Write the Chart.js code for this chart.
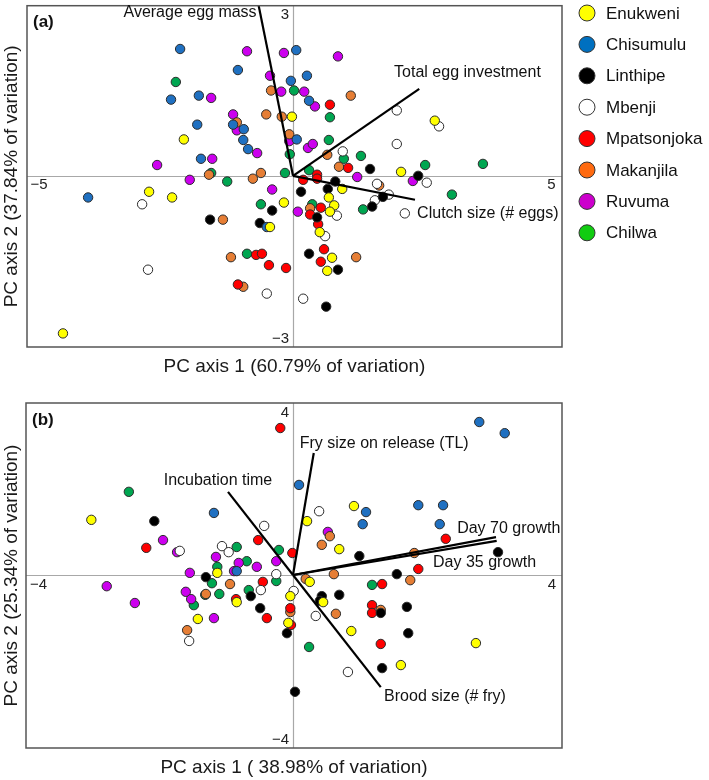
<!DOCTYPE html>
<html>
<head>
<meta charset="utf-8">
<script src="https://cdn.jsdelivr.net/npm/chart.js@4.4.1/dist/chart.umd.min.js"></script>
<style>
  body { margin: 0; background: #fff; }
  #wrap { position: relative; width: 709px; height: 780px; }
  .panel { position: absolute; left: 0; width: 709px; }
</style>
</head>
<body>
<div id="wrap">
  <div class="panel" style="top:0;height:385px"><canvas id="chartA" width="709" height="385"></canvas></div>
  <div class="panel" style="top:385px;height:395px"><canvas id="chartB" width="709" height="395"></canvas></div>
</div>
<script>
// populations (legend order)
const popNames = ["Enukweni", "Chisumulu", "Linthipe", "Mbenji", "Mpatsonjoka", "Makanjila", "Ruvuma", "Chilwa"];

// ---- panel (a): egg traits, PC1 x PC2 scores ----
const a_enukweni = [[-0.02,1.04],[-2.04,0.64],[2.65,0.97],[2.02,0.07],[0.92,-0.23],[0.67,-0.38],[-0.17,-0.47],[0.77,-0.52],[0.69,-0.63],[0.50,-0.99],[0.73,-1.44],[0.64,-1.67],[-0.43,-0.90],[-2.69,-0.28],[-2.26,-0.38],[-4.30,-2.77]];
const a_chisumulu = [[-2.11,2.23],[0.06,2.21],[-1.03,1.86],[-0.04,1.67],[0.26,1.76],[0.30,1.32],[-2.28,1.34],[-1.76,1.41],[-1.79,0.90],[-1.12,0.90],[-0.92,0.82],[0.07,0.64],[-0.93,0.63],[-0.84,0.47],[-1.72,0.30],[-3.83,-0.38],[-0.49,-0.90]];
const a_linthipe = [[1.44,0.12],[0.79,-0.10],[2.34,0.00],[0.15,-0.28],[0.65,-0.23],[1.68,-0.37],[1.48,-0.54],[0.45,-0.73],[0.30,-1.37],[0.84,-1.65],[0.62,-2.30],[-0.39,-0.61],[-1.55,-0.77],[-0.62,-0.83]];
const a_mbenji = [[1.94,1.15],[1.94,0.56],[2.73,0.87],[0.93,0.43],[1.57,-0.14],[2.50,-0.12],[1.79,-0.33],[1.53,-0.43],[0.82,-0.70],[0.60,-1.06],[0.19,-2.16],[-0.49,-2.07],[2.09,-0.66],[-2.82,-0.50],[-2.71,-1.65]];
const a_mpatsonjoka = [[0.69,1.25],[1.03,0.14],[0.19,-0.07],[0.45,0.02],[0.45,-0.05],[0.52,-0.56],[0.32,-0.68],[0.47,-0.85],[0.58,-1.29],[0.52,-1.51],[-0.13,-1.62],[-0.69,-1.39],[-0.58,-1.37],[-0.45,-1.57],[-1.03,-1.91]];
const a_makanjila = [[-0.41,1.50],[1.08,1.41],[-0.50,1.08],[-0.21,1.04],[-1.05,0.94],[-0.07,0.73],[0.64,0.37],[0.86,0.16],[1.61,-0.17],[0.32,-0.57],[1.18,-1.43],[-1.57,0.02],[-0.75,-0.05],[-0.60,0.05],[-1.31,-0.77],[-1.16,-1.43],[-0.93,-1.95]];
const a_ruvuma = [[-0.86,2.19],[-0.17,2.16],[0.84,2.10],[-0.43,1.76],[-0.22,1.48],[0.21,1.48],[0.41,1.22],[-1.53,1.37],[-1.12,1.08],[-1.05,0.80],[-0.07,0.61],[0.28,0.49],[0.37,0.56],[-0.67,0.40],[-1.51,0.30],[-2.54,0.19],[-1.93,-0.07],[1.20,-0.02],[2.24,-0.09],[-0.39,-0.24],[0.09,-0.63]];
const a_chilwa = [[-2.19,1.65],[0.02,1.50],[0.69,1.03],[0.67,0.63],[-0.06,0.38],[0.95,0.30],[1.27,0.35],[0.30,0.10],[-0.15,0.05],[2.47,0.19],[3.55,0.21],[2.97,-0.33],[1.31,-0.59],[0.36,-0.50],[-1.53,0.05],[-1.23,-0.10],[-0.60,-0.50],[-0.86,-1.37]];

const aVecNames = ["Average egg mass", "Total egg investment", "Clutch size (# eggs)"];
const aVecX = [-0.65, 2.36, 2.28];
const aVecY = [3.03, 1.53, -0.42];
const aTicksX = [-5, 5];
const aTicksY = [-3, 3];

// ---- panel (b): fry traits, PC1 x PC2 scores ----
const b_enukweni = [[-3.01,1.28],[-1.13,0.05],[-0.84,-0.63],[-1.42,-1.02],[-0.04,-0.49],[-0.07,-1.11],[0.21,1.25],[0.91,1.60],[0.69,0.60],[0.25,-0.16],[0.45,-0.63],[0.87,-1.30],[2.73,-1.58],[1.61,-2.09]];
const b_chisumulu = [[-1.18,1.44],[-0.84,0.09],[0.09,2.09],[1.09,1.46],[1.04,1.18],[1.87,1.62],[2.24,1.62],[2.19,1.18],[2.78,3.55],[3.16,3.29]];
const b_linthipe = [[-2.07,1.25],[-1.30,-0.05],[-0.63,-0.49],[-0.49,-0.77],[-0.09,-1.35],[0.43,-0.49],[0.40,-0.60],[0.69,-0.46],[0.99,0.44],[1.55,0.02],[1.31,-0.88],[1.70,-0.74],[1.72,-1.35],[1.33,-2.16],[3.06,0.53],[0.03,-2.71]];
const b_mbenji = [[-0.43,1.14],[-1.69,0.56],[-1.06,0.67],[-0.96,0.53],[-0.25,0.02],[-0.48,-0.35],[0.01,-0.37],[0.34,-0.95],[-1.55,-1.53],[0.39,1.48],[0.82,-2.25]];
const b_mpatsonjoka = [[-0.19,3.41],[-2.19,0.63],[-0.52,0.81],[-0.01,0.51],[-0.45,-0.16],[-0.85,-0.56],[-0.39,-1.00],[-0.04,-0.77],[-0.03,-1.16],[2.28,0.84],[1.87,0.14],[1.33,-0.21],[1.18,-0.70],[1.18,-0.88],[1.31,-1.60]];
const b_makanjila = [[-0.94,-0.21],[-1.30,-0.44],[-1.58,-1.28],[-0.04,-0.86],[0.19,-0.09],[0.43,0.70],[0.55,0.90],[0.61,0.02],[0.64,-0.90],[1.81,0.51],[1.75,-0.12],[1.31,-0.81]];
const b_ruvuma = [[-1.94,0.81],[-1.73,0.53],[-1.15,0.42],[-0.81,0.28],[-0.54,0.19],[-0.25,0.32],[-1.54,0.05],[-0.88,0.09],[-2.78,-0.26],[-2.36,-0.65],[-1.60,-0.39],[-1.52,-0.56],[-1.18,-1.00],[0.52,1.00]];
const b_chilwa = [[-2.45,1.93],[-0.84,0.65],[-0.21,0.58],[-1.13,0.19],[-0.69,0.32],[-1.21,-0.19],[-0.25,-0.14],[-0.66,-0.35],[-1.31,-0.46],[-1.10,-0.44],[-1.48,-0.70],[1.18,-0.23],[0.24,-1.67]];

const bVecNames = ["Fry size on release (TL)", "Incubation time", "Brood size (# fry)", "Day 70 growth", "Day 35 growth"];
const bVecX = [0.31, -0.97, 1.31, 3.03, 3.04];
const bVecY = [2.83, 1.93, -2.60, 0.88, 0.79];
const bTicksX = [-4, 4];
const bTicksY = [-4, 4];

// styling
const FONT = "'Liberation Sans', Arial, Helvetica, sans-serif";
const pointColors = ["#ffff00", "#1f70c1", "#000000", "#ffffff", "#ff0000", "#e67e35", "#cc00ee", "#00a651"];
const legendColors = ["#ffff00", "#0070c0", "#000000", "#ffffff", "#ff0000", "#ff6a10", "#cc00cc", "#11cc11"];

// where the arrow labels sit (data units) and how they align
const aLabelPos = [[-0.68, 2.87, "right"], [1.89, 1.81, "left"], [2.32, -0.66, "left"]];
const bLabelPos = [[0.10, 3.06, "left"], [-1.12, 2.20, "center"], [1.36, -2.83, "left"], [2.45, 1.07, "left"], [2.09, 0.28, "left"]];

const fmt = v => (v < 0 ? "\u2212" + Math.abs(v) : String(v));

const decoPlugin = {
  id: "deco",
  beforeDatasetsDraw(chart) {
    const { ctx, chartArea: a, scales: { x, y } } = chart;
    const x0 = Math.round(x.getPixelForValue(0)) + 0.5;
    const y0 = Math.round(y.getPixelForValue(0)) + 0.5;
    ctx.save();
    ctx.strokeStyle = "#a8a8a8";
    ctx.lineWidth = 1.2;
    ctx.beginPath();
    ctx.moveTo(a.left, y0); ctx.lineTo(a.right, y0);
    ctx.moveTo(x0, a.top); ctx.lineTo(x0, a.bottom);
    ctx.stroke();
    ctx.restore();
  },
  afterDraw(chart, args, opts) {
    const { ctx, chartArea: a, scales: { x, y } } = chart;
    const x0 = x.getPixelForValue(0);
    const y0 = y.getPixelForValue(0);
    ctx.save();

    // frame
    ctx.strokeStyle = "#555";
    ctx.lineWidth = 1.5;
    ctx.strokeRect(a.left, a.top, a.right - a.left, a.bottom - a.top);

    // tick labels, tucked inside the frame next to the zero lines
    ctx.fillStyle = "#222";
    ctx.font = "15px " + FONT;
    ctx.textBaseline = "middle";
    opts.ticksX.forEach(v => {
      const px = x.getPixelForValue(v);
      ctx.textAlign = v < 0 ? "left" : "right";
      ctx.fillText(fmt(v), px + (v < 0 ? 5 : -5), y0 + 9.5);
    });
    opts.ticksY.forEach(v => {
      const py = y.getPixelForValue(v);
      ctx.textAlign = "right";
      ctx.fillText(fmt(v), x0 - 4, py + (v > 0 ? 10 : -8));
    });

    // arrow labels
    ctx.font = "16px " + FONT;
    ctx.fillStyle = "#111";
    opts.vecNames.forEach((n, i) => {
      const p = opts.labelPos[i];
      ctx.textAlign = p[2];
      ctx.fillText(n, x.getPixelForValue(p[0]), y.getPixelForValue(p[1]));
    });

    // panel letter
    ctx.font = "bold 17px " + FONT;
    ctx.textAlign = "left";
    ctx.fillText(opts.letter, a.left + 6, a.top + 17);

    // axis titles
    ctx.font = "19px " + FONT;
    ctx.fillStyle = "#1a1a1a";
    ctx.textAlign = "center";
    ctx.fillText(opts.xTitle, (a.left + a.right) / 2, a.bottom + 20);
    ctx.save();
    ctx.translate(12, (a.top + a.bottom) / 2);
    ctx.rotate(-Math.PI / 2);
    ctx.fillText(opts.yTitle, 0, 0);
    ctx.restore();

    // legend (panel a only)
    if (opts.legend) {
      ctx.font = "17px " + FONT;
      ctx.textAlign = "left";
      popNames.forEach((n, i) => {
        const cy = 13 + i * 31.4;
        ctx.beginPath();
        ctx.arc(a.right + 25, cy, 8, 0, Math.PI * 2);
        ctx.fillStyle = legendColors[i];
        ctx.fill();
        ctx.lineWidth = 1;
        ctx.strokeStyle = "#333";
        ctx.stroke();
        ctx.fillStyle = "#111";
        ctx.fillText(n, a.right + 44, cy + 1);
      });
    }
    ctx.restore();
  }
};

function popDatasets(lists) {
  return popNames.map((name, i) => ({
    label: name,
    data: lists[i].map(p => ({ x: p[0], y: p[1] })),
    backgroundColor: pointColors[i],
    borderColor: "#2b2b2b",
    borderWidth: 1,
    pointRadius: 4.7,
    pointHoverRadius: 4.7,
    order: 1
  }));
}

function vecDatasets(names, vx, vy) {
  return names.map((n, i) => ({
    label: n,
    data: [{ x: 0, y: 0 }, { x: vx[i], y: vy[i] }],
    showLine: true,
    borderColor: "#000",
    borderWidth: 2.2,
    pointRadius: 0,
    pointHoverRadius: 0,
    order: 0
  }));
}

function makeChart(id, lists, vecs, range, padding, deco) {
  return new Chart(document.getElementById(id), {
    type: "scatter",
    data: { datasets: popDatasets(lists).concat(vecDatasets(vecs[0], vecs[1], vecs[2])) },
    options: {
      responsive: false,
      animation: false,
      events: [],
      layout: { padding: padding },
      scales: {
        x: { type: "linear", min: range[0], max: range[1], display: false },
        y: { type: "linear", min: range[2], max: range[3], display: false }
      },
      plugins: {
        legend: { display: false },
        tooltip: { enabled: false },
        deco: deco
      }
    },
    plugins: [decoPlugin]
  });
}

makeChart("chartA",
  [a_enukweni, a_chisumulu, a_linthipe, a_mbenji, a_mpatsonjoka, a_makanjila, a_ruvuma, a_chilwa],
  [aVecNames, aVecX, aVecY],
  [-4.972, 5.028, -3.009, 2.991],
  { left: 27, right: 147, top: 2, bottom: 38 },
  {
    letter: "(a)", legend: true,
    ticksX: aTicksX, ticksY: aTicksY,
    vecNames: aVecNames, labelPos: aLabelPos,
    xTitle: "PC axis 1 (60.79% of variation)",
    yTitle: "PC axis 2 (37.84% of variation)"
  });

makeChart("chartB",
  [b_enukweni, b_chisumulu, b_linthipe, b_mbenji, b_mpatsonjoka, b_makanjila, b_ruvuma, b_chilwa],
  [bVecNames, bVecX, bVecY],
  [-3.985, 4.015, -4.014, 3.991],
  { left: 26, right: 147, top: 18, bottom: 32 },
  {
    letter: "(b)", legend: false,
    ticksX: bTicksX, ticksY: bTicksY,
    vecNames: bVecNames, labelPos: bLabelPos,
    xTitle: "PC axis 1 ( 38.98% of variation)",
    yTitle: "PC axis 2 (25.34% of variation)"
  });
</script>
</body>
</html>
